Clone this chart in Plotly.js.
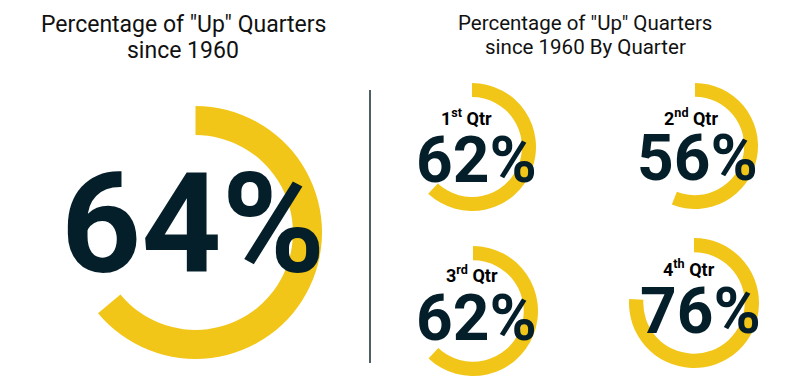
<!DOCTYPE html>
<html>
<head>
<meta charset="utf-8">
<script src="https://cdn.plot.ly/plotly-3.0.1.min.js"></script>
<style>
html,body{margin:0;padding:0;background:#fff;}
#chart{width:810px;height:388px;}
</style>
</head>
<body>
<div id="chart"></div>
<script>
// ---- data ----
const overallTitleLines = ['Percentage of "Up" Quarters', 'since 1960'];
const quarterTitleLines = ['Percentage of "Up" Quarters', 'since 1960 By Quarter'];
const overallValue = 64;
const quarterNums = ['1', '2', '3', '4'];
const quarterSuffix = ['st', 'nd', 'rd', 'th'];
const quarterValues = [62, 56, 62, 76];

// ---- styling / layout (positions in px) ----
const W = 810, H = 388;
const YELLOW = '#F2C618';
const DARK = '#041F2A';
const FONT = 'Roboto, Arial, sans-serif';

// donut boxes: center x, center y (from top), radius
const bigRing = {cx: 195.5, cy: 232.5, r: 126.5, hole: 0.77};
const smallRings = [
  {cx: 472, cy: 147, r: 64, hole: 0.78},
  {cx: 695, cy: 146, r: 63, hole: 0.78},
  {cx: 473, cy: 311, r: 65, hole: 0.78},
  {cx: 694, cy: 303, r: 65, hole: 0.78}
];
const pctPos = [[476, 160], [697, 158], [476, 318], [700, 311]];
const lblPos = [[467, 117], [691, 117], [472, 274], [689, 268]];

function dom(g) {
  return {
    x: [(g.cx - g.r) / W, (g.cx + g.r) / W],
    y: [(H - (g.cy + g.r)) / H, (H - (g.cy - g.r)) / H]
  };
}
function ring(value, g) {
  return {
    type: 'pie',
    values: [value, 100 - value],
    labels: ['Up', 'Rest'],
    sort: false,
    direction: 'clockwise',
    rotation: 0,
    hole: g.hole,
    domain: dom(g),
    marker: {colors: [YELLOW, 'rgba(255,255,255,0)'], line: {width: 0}},
    textinfo: 'none',
    hoverinfo: 'skip',
    showlegend: false
  };
}

const data = [ring(overallValue, bigRing)];
quarterValues.forEach((v, i) => data.push(ring(v, smallRings[i])));

function ann(text, x, y, size, bold, color) {
  return {
    text: text, xref: 'paper', yref: 'paper',
    x: x / W, y: 1 - y / H, xanchor: 'center', yanchor: 'middle',
    showarrow: false,
    font: {family: FONT, size: size, color: color, weight: bold ? 700 : 400}
  };
}

const annotations = [
  ann(overallTitleLines[0], 183, 24, 23, false, '#111'),
  ann(overallTitleLines[1], 183, 51, 23, false, '#111'),
  ann(quarterTitleLines[0], 585, 23, 20.5, false, '#111'),
  ann(quarterTitleLines[1], 585, 46.5, 20.5, false, '#111'),
  ann(overallValue + '%', 193, 224, 140, true, DARK)
];
quarterValues.forEach((v, i) => {
  annotations.push(ann(v + '%', pctPos[i][0], pctPos[i][1], 64, true, DARK));
  annotations.push(ann(quarterNums[i] + '<sup>' + quarterSuffix[i] + '</sup> Qtr', lblPos[i][0], lblPos[i][1], 18, true, '#000'));
});

const layout = {
  width: W, height: H,
  margin: {l: 0, r: 0, t: 0, b: 0},
  paper_bgcolor: '#fff',
  showlegend: false,
  annotations: annotations,
  shapes: [{
    type: 'line', xref: 'paper', yref: 'paper',
    x0: 370 / W, x1: 370 / W, y0: 1 - 363 / H, y1: 1 - 90 / H,
    line: {color: '#142a33', width: 1.5}
  }]
};

Plotly.newPlot('chart', data, layout, {staticPlot: true, displayModeBar: false});
</script>
</body>
</html>
